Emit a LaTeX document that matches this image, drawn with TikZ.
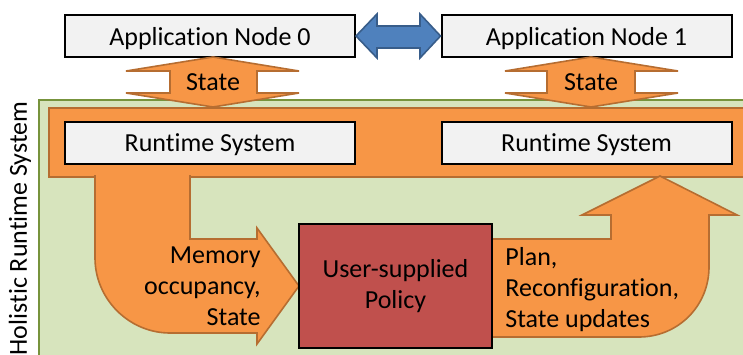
\documentclass[tikz,border=0pt]{standalone}
\usepackage{fontspec}
\setmainfont[Ligatures={NoCommon,NoContextual}]{Carlito}
\definecolor{boxgray}{HTML}{F2F2F2}
\definecolor{flowfill}{HTML}{F79646}
\definecolor{flowline}{HTML}{B66D31}
\definecolor{hrsfill}{HTML}{D7E4BD}
\definecolor{hrsline}{HTML}{77933C}
\definecolor{policyfill}{HTML}{C0504D}
\definecolor{linkfill}{HTML}{4F81BD}
\definecolor{linkline}{HTML}{385D8A}

\begin{document}
\begin{tikzpicture}[x=0.5pt, y=-0.5pt, font=\fontsize{13}{15.5}\selectfont,
	nodebox/.style={draw, line width=1pt, fill=boxgray, minimum width=145pt, minimum height=21pt, inner sep=0pt, text depth=0pt},
	policybox/.style={draw, line width=1pt, fill=policyfill, minimum width=96.5pt, minimum height=62pt, inner sep=0pt, align=center},
	flow/.style={fill=flowfill, draw=flowline, line width=0.8pt, line join=miter},
	link/.style={fill=linkfill, draw=linkline, line width=0.8pt, line join=miter},
	flowtext/.style={inner sep=0pt}]
	\useasboundingbox (0,0) rectangle (743,354);
	\draw [fill=hrsfill, draw=hrsline, line width=1pt] (39,100) rectangle (770,380);
	\draw [flow] (49,108) rectangle (770,177);
	\node [rotate=90, anchor=mid east, inner sep=0pt] (hrs) at (22,101) {Holistic Runtime System};
	\draw [flow] (95,175) -- (95,258) .. controls (95,299) and (129,333) .. (170,333) -- (257,333) -- (257,344) -- (299,286) -- (257,228) -- (257,239) -- (190,239) -- (190,175);
	\draw [flow] (480,239) -- (611,239) -- (611,215) -- (582,215) -- (660,176) -- (737,215) -- (709,215) -- (709,267) .. controls (709,306) and (678,337) .. (639,337) -- (480,337);
	\node [policybox] (policy) at (395.5,286) {User-supplied\\Policy};
	\node [nodebox] (rt0) at (210,142.5) {Runtime System};
	\node [nodebox] (rt1) at (586.5,142.5) {Runtime System};
	\node [nodebox] (app0) at (210,36) {Application Node 0};
	\node [nodebox] (app1) at (586.5,36) {Application Node 1};
	\draw [link] (app0.east) -- (377,14) -- (377,26) -- (420,26) -- (420,14) -- (app1.west) -- (420,58) -- (420,48) -- (377,48) -- (377,58) -- cycle;
	\draw [flow] (213,57) -- (299,71) -- (257,71) -- (257,93) -- (299,93) -- (213,107) -- (126,93) -- (170,93) -- (170,71) -- (126,71) -- cycle;
	\draw [flow] (591,57) -- (678,71) -- (635,71) -- (635,93) -- (678,93) -- (591,107) -- (505,93) -- (547,93) -- (547,71) -- (505,71) -- cycle;
	\node [flowtext] (state0) at (213,82) {State};
	\node [flowtext] (state1) at (591,82) {State};
	\node [flowtext, align=right, anchor=east] (mem) at (261,286) {Memory\\occupancy,\\State};
	\node [flowtext, align=left, anchor=west] (plan) at (505,290) {Plan,\\Reconfiguration,\\State updates};
\end{tikzpicture}
\end{document}
